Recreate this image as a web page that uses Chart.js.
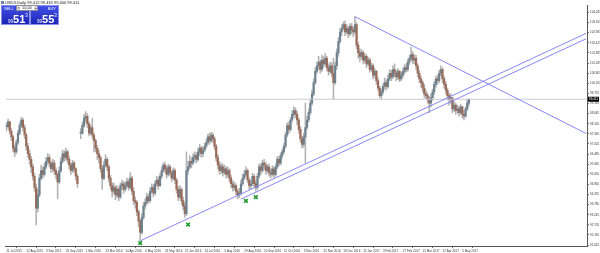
<!DOCTYPE html>
<html>
<head>
<meta charset="utf-8">
<title>USDX Daily</title>
<script src="https://cdn.jsdelivr.net/npm/chart.js@4.4.1/dist/chart.umd.min.js"></script>
<style>
  body { margin: 0; background: #fff; }
  #wrap { position: relative; width: 600px; height: 253px; font-family: "Liberation Sans", Arial, sans-serif; }
  #title { position: absolute; left: 1px; top: 0; font-size: 4px; line-height: 5px; color: #111; white-space: nowrap; }
  #title i { display: inline-block; width: 3px; height: 3px; background: #6a7fb0; margin-right: 1px; vertical-align: middle; }
  .box { position: absolute; top: 5px; height: 20px; box-sizing: border-box; color: #fff;
         background: linear-gradient(#4250e6, #1b24b6); border: 1px solid #8a92ee; }
  .box .lbl { position: absolute; top: 1px; font-size: 4px; line-height: 4px; }
  .box .px { position: absolute; top: 6px; white-space: nowrap; line-height: 12px; }
  .box .px small { font-size: 4.5px; vertical-align: baseline; }
  .box .px b { font-size: 11px; font-weight: bold; }
  .box .px sup { font-size: 4.5px; vertical-align: top; position: relative; top: -2px; }
  #lot { position: absolute; left: 16px; top: 5px; width: 22px; height: 6px; box-sizing: border-box; background: #fff;
         border: 1px solid #8d8d9a; font-size: 4px; line-height: 4px; color: #222; text-align: center; }
  #lot span { position: absolute; top: 0; width: 3px; height: 4px; background: #dcdce4; font-size: 3px; line-height: 4px; }
</style>
</head>
<body>
<div id="wrap">
  <canvas id="chart" width="600" height="253"></canvas>
  <div id="title"><i></i>USDX,Daily  99.412 99.433 99.400 99.411</div>
  <div class="box" style="left:1px;width:29px">
    <span class="lbl" style="left:2px">SELL</span>
    <span class="px" style="left:6px"><small>99</small><b>51</b><sup>3</sup></span>
  </div>
  <div class="box" style="left:30px;width:29px">
    <span class="lbl" style="right:2px">BUY</span>
    <span class="px" style="left:6px"><small>99</small><b>55</b><sup>3</sup></span>
  </div>
  <div id="lot"><span style="left:0">▾</span>10.00<span style="right:0">▴</span></div>
</div>
<script>
// daily closes left to right (null = missing days)
const closes = [
  97.95, 98.20, 97.70, 97.40, 96.80, 96.60,
  97.10, 97.60, 98.00, 98.30, 97.90, 97.50,
  96.90, 96.50, 96.20, 95.80, 95.30, 94.70,
  93.60, 94.30, 95.20, 95.60, 95.40, 95.80,
  96.10, 96.30, 96.00, 95.70, 96.00, 95.60,
  95.40, 95.00, 95.60, 96.10, 96.50, 96.30,
  96.60, 96.20, 95.90, 95.60, 96.00, 95.70,
  95.30, 94.90, null, 97.60, 98.00, 98.40,
  98.50, 98.10, 97.60, 97.90, 97.50, 97.20,
  96.80, 96.50, 96.30, 95.70, 95.20, 95.90,
  96.20, 95.80, 95.20, 94.80, 94.50, 94.70,
  94.30, 94.60, 94.20, 94.80, 94.90, 94.60,
  94.80, 95.00, 94.70, 95.20, 94.50, 94.00,
  93.90, 93.40, 92.90, 92.30, 93.10, 93.70,
  93.90, 94.20, 94.00, 94.50, 94.70, 94.40,
  94.90, 95.10, 94.80, 95.30, 95.60, 95.90,
  95.70, 95.40, 95.80, 95.50, 95.20, 95.60,
  95.10, 94.60, 94.20, 94.60, 94.00, 93.70,
  93.30, 95.60, 95.80, 96.10, 96.00, 96.30,
  96.40, 96.20, 96.60, 96.80, 96.50, 96.70,
  96.90, 97.10, 97.40, 97.20, 97.50, 97.30,
  96.90, 96.30, 95.90, 95.60, 95.80, 95.50,
  95.70, 95.40, 95.60, 95.20, 94.90, 94.70,
  94.80, 94.50, 94.30, 94.40, 94.90, 95.20,
  95.40, 95.60, 95.10, 94.80, 94.90, 95.30,
  94.90, 94.70, 95.30, 95.80, 95.60, 96.00,
  95.90, 95.60, 95.80, 95.50, 95.40, 95.70,
  95.40, 95.80, 96.20, 96.00, 96.40, 96.60,
  96.90, 97.50, 98.00, 97.80, 98.30, 98.60,
  98.80, 98.60, 98.30, 97.80, 97.30, 97.00,
  97.40, 97.90, 98.30, 98.70, 99.20, 99.70,
  100.30, 100.90, 101.20, 101.40, 101.00, 101.50,
  101.30, 101.60, 101.10, 100.90, 101.20, 100.80,
  100.30, 101.20, 101.90, 102.50, 103.00, 103.20,
  103.40, 103.00, 103.20, 102.90, 103.30, 103.10,
  103.00, 103.40, 102.30, 101.90, 101.70, 101.90,
  101.50, 101.70, 101.30, 101.50, 101.00, 101.20,
  100.70, 100.90, 100.40, 100.00, 99.60, 99.80,
  100.10, 100.30, 100.10, 100.50, 100.80, 100.60,
  101.00, 100.80, 100.60, 100.90, 100.50, 100.70,
  100.90, 101.10, 101.00, 101.40, 101.60, 101.80,
  101.50, 101.60, 101.20, 100.80, 100.50, 100.30,
  100.00, 99.70, 99.60, 99.40, 99.20, 99.50,
  99.80, 100.20, 100.50, 100.40, 100.80, 101.00,
  100.50, 100.20, 99.90, 99.60, 99.40, 99.50,
  98.90, 99.10, 98.80, 98.90, 98.70, 99.00,
  98.60, 98.50, 98.90, 99.20, 99.411
];
const highs = [
  98.15, 98.35, 98.25, 97.85, 97.50, 96.95,
  97.25, 97.75, 98.15, 98.45, 98.40, 98.05,
  97.60, 97.05, 96.70, 96.35, 95.95, 95.45,
  94.90, 94.60, 95.40, 95.90, 95.80, 96.00,
  96.30, 96.50, 96.45, 96.10, 96.20, 96.15,
  95.75, 95.50, 95.80, 96.30, 96.70, 96.65,
  96.80, 96.70, 96.35, 96.00, 96.15, 96.10,
  95.75, 95.40, null, 97.85, 98.20, 98.60,
  98.75, 98.65, 98.20, 98.05, 98.40, 97.60,
  97.30, 96.95, 96.70, 96.40, 95.85, 96.10,
  96.45, 96.30, 95.90, 95.35, 94.95, 94.95,
  94.80, 94.80, 94.70, 94.95, 95.10, 95.00,
  95.00, 95.20, 95.15, 95.50, 95.30, 94.70,
  94.20, 94.00, 93.50, 93.00, 93.30, 93.90,
  94.10, 94.40, 94.35, 94.70, 94.90, 94.85,
  95.05, 95.30, 95.25, 95.45, 95.80, 96.00,
  96.05, 95.85, 95.95, 95.90, 95.60, 95.75,
  95.70, 95.20, 94.75, 94.80, 94.70, 94.20,
  93.90, 96.60, 96.10, 96.40, 96.30, 96.50,
  96.60, 96.55, 96.80, 97.00, 96.90, 96.85,
  97.05, 97.30, 97.55, 97.60, 97.65, 97.60,
  97.40, 97.00, 96.45, 96.10, 96.00, 95.95,
  95.90, 95.80, 95.80, 95.70, 95.35, 95.05,
  95.00, 94.90, 94.60, 94.65, 95.10, 95.40,
  95.60, 95.80, 95.70, 95.20, 95.10, 95.45,
  95.40, 95.05, 95.45, 95.95, 95.95, 96.15,
  96.20, 96.05, 95.95, 95.95, 95.70, 95.85,
  95.80, 95.95, 96.35, 96.35, 96.55, 96.75,
  97.05, 97.65, 98.15, 98.20, 98.45, 98.80,
  99.00, 98.95, 98.75, 98.40, 97.95, 97.45,
  97.60, 99.20, 98.50, 98.90, 99.40, 99.90,
  100.50, 101.10, 101.40, 101.70, 101.50, 101.75,
  101.70, 101.85, 101.70, 101.30, 101.40, 101.35,
  101.60, 101.40, 102.10, 102.70, 103.20, 103.40,
  103.55, 103.60, 103.40, 103.30, 103.45, 103.45,
  103.25, 103.82, 103.50, 102.45, 102.10, 102.05,
  102.00, 101.85, 101.80, 101.65, 101.60, 101.35,
  101.30, 101.05, 100.95, 100.55, 100.10, 99.95,
  100.25, 100.55, 100.45, 100.70, 101.00, 100.95,
  101.20, 101.30, 100.95, 101.05, 100.95, 100.85,
  101.05, 101.25, 101.30, 101.55, 101.75, 102.20,
  101.95, 101.80, 101.75, 101.30, 100.95, 100.65,
  100.40, 100.20, 99.90, 99.75, 99.55, 99.70,
  99.95, 100.35, 100.65, 100.70, 100.95, 101.20,
  101.10, 100.65, 100.35, 100.00, 99.75, 99.70,
  99.45, 99.30, 99.20, 99.10, 99.05, 99.15,
  99.05, 98.80, 99.00, 99.40, 99.45
];
const lows = [
  97.70, 97.85, 97.55, 97.20, 96.60, 96.35,
  96.50, 97.00, 97.50, 97.90, 97.70, 97.30,
  96.70, 96.30, 95.95, 95.50, 95.10, 94.50,
  92.70, 93.40, 94.20, 95.10, 95.20, 95.30,
  95.70, 95.95, 95.80, 95.50, 95.55, 95.40,
  95.15, 94.10, 94.90, 95.50, 96.00, 96.10,
  96.15, 96.00, 95.70, 95.40, 95.50, 95.50,
  95.10, 94.70, null, 97.30, 97.55, 97.90,
  98.20, 97.90, 97.45, 97.50, 97.30, 96.60,
  96.60, 96.20, 96.00, 95.50, 94.60, 95.10,
  95.80, 95.60, 95.00, 94.60, 94.20, 94.35,
  94.05, 94.15, 94.00, 94.10, 94.60, 94.40,
  94.50, 94.70, 94.55, 94.60, 94.30, 93.80,
  93.60, 93.20, 92.60, 91.85, 92.20, 93.00,
  93.55, 93.80, 93.85, 93.90, 94.40, 94.20,
  94.30, 94.75, 94.60, 94.75, 95.20, 95.50,
  95.50, 95.20, 95.30, 95.35, 95.00, 95.10,
  94.90, 94.40, 94.00, 94.10, 93.80, 93.50,
  93.10, 93.20, 95.40, 95.70, 95.75, 95.90,
  96.10, 96.00, 96.10, 96.40, 96.30, 96.35,
  96.60, 96.80, 97.00, 97.00, 97.10, 97.10,
  96.70, 96.10, 95.70, 95.40, 95.45, 95.30,
  95.40, 95.20, 95.25, 95.00, 94.70, 94.50,
  94.55, 94.30, 94.10, 94.15, 94.30, 94.80,
  95.10, 95.30, 94.95, 94.60, 94.65, 94.80,
  94.70, 94.50, 94.60, 95.20, 95.40, 95.50,
  95.70, 95.40, 95.45, 95.30, 95.20, 95.30,
  95.20, 95.30, 95.70, 95.85, 95.90, 96.25,
  96.50, 96.80, 97.40, 97.60, 97.70, 98.20,
  98.45, 98.40, 98.05, 97.60, 97.10, 96.80,
  96.85, 96.00, 97.80, 98.20, 98.60, 99.10,
  99.60, 100.20, 100.80, 101.00, 100.80, 100.90,
  101.10, 101.20, 100.95, 100.70, 100.80, 100.60,
  99.40, 100.20, 101.00, 101.70, 102.40, 102.80,
  103.10, 102.80, 102.90, 102.70, 102.80, 102.90,
  102.75, 102.90, 102.10, 101.60, 101.40, 101.55,
  101.30, 101.35, 101.10, 101.20, 100.85, 100.90,
  100.50, 100.55, 100.20, 99.85, 99.50, 99.40,
  99.70, 99.95, 99.90, 100.00, 100.40, 100.40,
  100.50, 100.60, 100.40, 100.45, 100.35, 100.40,
  100.55, 100.75, 100.85, 100.90, 101.25, 101.45,
  101.30, 101.30, 101.00, 100.60, 100.30, 100.05,
  99.80, 99.50, 99.40, 99.20, 98.70, 99.00,
  99.35, 99.65, 100.05, 100.20, 100.30, 100.65,
  100.30, 100.00, 99.70, 99.40, 99.10, 99.20,
  98.70, 98.75, 98.60, 98.65, 98.50, 98.60,
  98.40, 98.30, 98.45, 98.80, 99.05
];

// bottom axis dates, one every 12 bars
const dateTicks = ["21 Jul 2015", "12 Aug 2015", "3 Sep 2015", "25 Sep 2015", "1 Mar 2016", "23 Mar 2016",
  "14 Apr 2016", "6 May 2016", "31 May 2016", "22 Jun 2016", "14 Jul 2016", "5 Aug 2016",
  "29 Aug 2016", "20 Sep 2016", "12 Oct 2016", "3 Nov 2016", "25 Nov 2016", "19 Dec 2016",
  "12 Jan 2017", "3 Feb 2017", "27 Feb 2017", "21 Mar 2017", "12 Apr 2017", "5 May 2017"];
const barsPerDate = 12;

// right axis prices
const priceTicks = [104.045, 103.505, 102.965, 102.425, 101.885, 101.345, 100.805, 100.265,
  99.725, 99.185, 98.645, 98.105, 97.565, 97.025, 96.485, 95.945, 95.405, 94.865,
  94.325, 93.785, 93.245, 92.705, 92.165, 91.625];

// drawn objects (bar index, price)
const channelLow = [{x: 81, y: 91.85}, {x: 351, y: 102.93}];
const channelHigh = [{x: 142, y: 94.08}, {x: 351, y: 102.64}];
const downTrend = [{x: 211, y: 103.82}, {x: 351, y: 97.58}];
const arrows = [{x: 81, y: 91.73}, {x: 110, y: 92.72}, {x: 145, y: 93.98}, {x: 151, y: 94.18}];
const totalSlots = 352;

const lastClose = closes[closes.length - 1];

// build candles
var bodies = [], wicks = [], bodyColors = [];
closes.forEach(function(c, i){
    if (c === null) return;
    var o = (i > 0 && closes[i-1] !== null) ? closes[i-1] : c;
    var h = Math.max(highs[i], o, c), l = Math.min(lows[i], o, c);
    bodies.push({x: i, y: [o, c]});
    wicks.push({x: i, y: [l, h]});
    bodyColors.push(c >= o ? '#6c808e' : '#9a6a56');
});

const lastPriceTag = {
    id: 'lastPriceTag',
    afterDraw: function(chart){
        var ctx = chart.ctx, y = chart.scales.y;
        var py = y.getPixelForValue(lastClose);
        ctx.save();
        ctx.fillStyle = '#000';
        ctx.fillRect(y.left + 1, py - 2.5, 11, 5);
        ctx.fillStyle = '#fff';
        ctx.font = '3px "Liberation Sans"';
        ctx.textBaseline = 'middle';
        ctx.fillText(lastClose.toFixed(3), y.left + 2, py + 0.3);
        ctx.restore();
    }
};

var noPad = function(){ return {left: 0, top: 0, right: 0, bottom: 0}; };
var tickFont = {family: 'Liberation Sans', size: 3};

new Chart(document.getElementById('chart'), {
    type: 'bar',
    data: {
        datasets: [
            {type: 'scatter', data: arrows, order: 0, pointStyle: 'crossRot', pointRadius: 2.6,
             pointBorderWidth: 1.6, borderColor: '#1f9a2a', backgroundColor: '#1f9a2a'},
            {type: 'line', data: channelLow, order: 1, borderColor: '#8787f5', borderWidth: 1, pointRadius: 0},
            {type: 'line', data: channelHigh, order: 1, borderColor: '#8787f5', borderWidth: 1, pointRadius: 0},
            {type: 'line', data: downTrend, order: 1, borderColor: '#8787f5', borderWidth: 1, pointRadius: 0},
            {type: 'line', data: [{x: -0.5, y: lastClose}, {x: totalSlots - 0.5, y: lastClose}], order: 2,
             borderColor: '#c9c9db', borderWidth: 1, pointRadius: 0},
            {data: bodies, order: 3, grouped: false, barThickness: 1.5, minBarLength: 1, backgroundColor: bodyColors},
            {data: wicks, order: 4, grouped: false, barThickness: 0.9, backgroundColor: '#b2b2b2'}
        ]
    },
    options: {
        responsive: false,
        animation: false,
        devicePixelRatio: 1,
        layout: {padding: 0},
        plugins: {legend: {display: false}, tooltip: {enabled: false}},
        scales: {
            x: {
                type: 'linear', min: -0.5, max: totalSlots - 0.5, offset: false,
                grid: {drawOnChartArea: false, tickLength: 2, color: '#777'},
                border: {display: true, color: '#555'},
                ticks: {font: tickFont, color: '#3a3a3a', padding: 1, align: 'start', autoSkip: false,
                        maxRotation: 0, minRotation: 0,
                        callback: function(v, idx){ return dateTicks[idx]; }},
                afterBuildTicks: function(s){ s.ticks = dateTicks.map(function(d, k){ return {value: k * barsPerDate}; }); },
                afterFit: function(s){ s.height = 7; s.getPadding = noPad; }
            },
            y: {
                position: 'right', min: 91.575, max: 104.41, stacked: false,
                grid: {drawOnChartArea: false, tickLength: 2, color: '#777'},
                border: {display: true, color: '#555'},
                ticks: {font: tickFont, color: '#3a3a3a', padding: 1,
                        callback: function(v){ return v.toFixed(3); }},
                afterBuildTicks: function(s){ s.ticks = priceTicks.map(function(v){ return {value: v}; }); },
                afterFit: function(s){ s.width = 13; s.getPadding = noPad; }
            }
        }
    },
    plugins: [lastPriceTag]
});
</script>
</body>
</html>
